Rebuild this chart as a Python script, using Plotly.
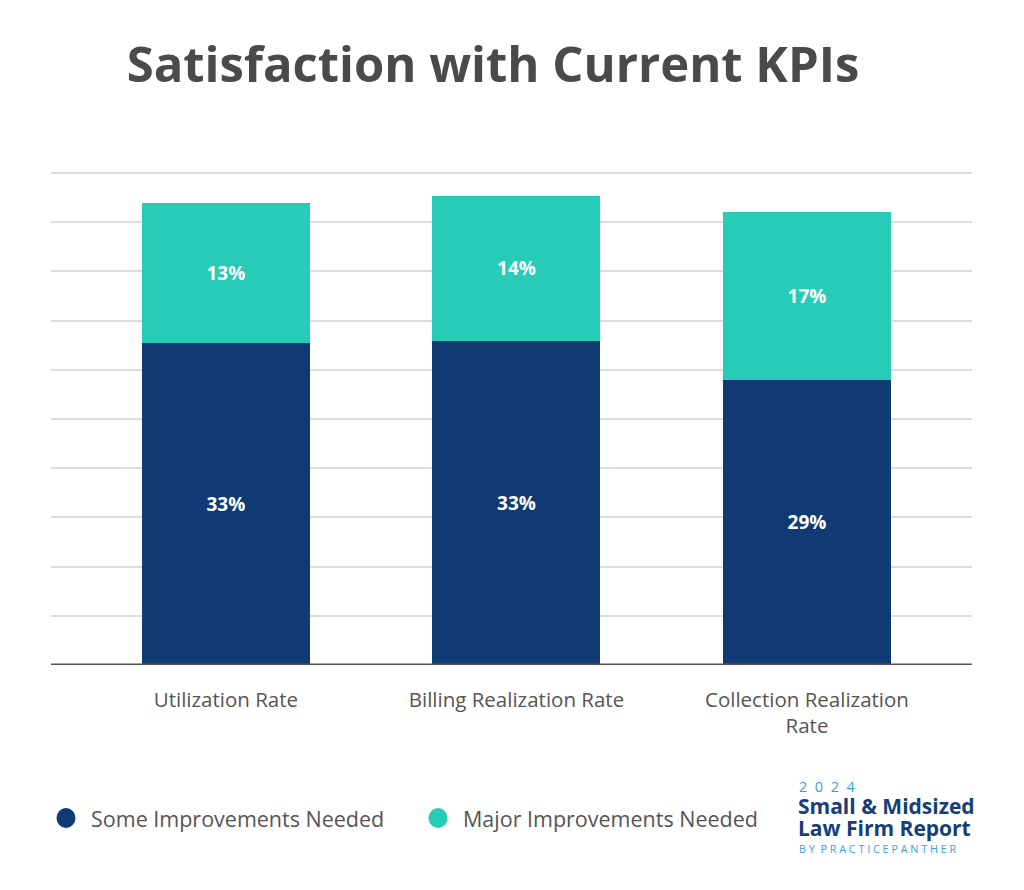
import plotly.graph_objects as go

categories = ["Utilization Rate", "Billing Realization Rate", "Collection Realization<br>Rate"]
some_values = [32.7, 32.9, 29.0]
major_values = [14.2, 14.8, 17.0]
some_labels = ["33%", "33%", "29%"]
major_labels = ["13%", "14%", "17%"]
series_names = ["Some Improvements Needed", "Major Improvements Needed"]
y_ticks = [0, 5, 10, 15, 20, 25, 30, 35, 40, 45, 50]

DARK = "#0f3a73"
TEAL = "#26ccb5"
GRAY = "#555555"
LOGO_BLUE = "#3d9fd6"
LOGO_NAVY = "#153e7a"
FONT = "Open Sans"

# page body has an 8px offset; plot area in figure coordinates
ML, MR, MT, MB = 43, 60, 162, 233
PW = 1024 - ML - MR
PH = 890 - MT - MB


def px(X):
    return (X - 8 - ML) / PW


def py(Y):
    return (890 - MB - (Y - 8)) / PH


x = list(range(len(categories)))

fig = go.Figure()
for vals, labels, name, col in [
    (some_values, some_labels, series_names[0], DARK),
    (major_values, major_labels, series_names[1], TEAL),
]:
    fig.add_trace(go.Bar(
        x=x, y=vals, name=name, marker_color=col, width=0.578,
        text=labels, textposition="inside", insidetextanchor="middle",
        textfont=dict(family=FONT, size=19, color="white", weight="bold"),
        showlegend=False, hoverinfo="skip", marker_line_width=0,
    ))

shapes = [dict(
    type="line", xref="paper", yref="y", x0=0, x1=1, y0=0, y1=0,
    line=dict(color="#555555", width=3),
)]
annotations = []
legend_pos = [(66, 91), (438, 463)]
for (cx, tx), name, col in zip(legend_pos, series_names, [DARK, TEAL]):
    shapes.append(dict(
        type="circle", xref="paper", yref="paper", xsizemode="pixel", ysizemode="pixel",
        xanchor=px(cx), yanchor=py(818), x0=-9.5, x1=9.5, y0=-10, y1=10,
        fillcolor=col, line=dict(width=0),
    ))
    annotations.append(dict(
        text=name, xref="paper", yref="paper", x=px(tx - 2), y=py(818),
        xanchor="left", yanchor="middle", showarrow=False,
        font=dict(family=FONT, size=21.5, color=GRAY),
    ))

annotations += [
    dict(text="2  0  2  4", xref="paper", yref="paper", x=px(797), y=py(786),
         xanchor="left", yanchor="middle", showarrow=False,
         font=dict(family=FONT, size=14.5, color=LOGO_BLUE)),
    dict(text="<b>Small &amp; Midsized</b>", xref="paper", yref="paper", x=px(796), y=py(806),
         xanchor="left", yanchor="middle", showarrow=False,
         font=dict(family=FONT, size=21, color=LOGO_NAVY)),
    dict(text="<b>Law Firm Report</b>", xref="paper", yref="paper", x=px(796), y=py(828),
         xanchor="left", yanchor="middle", showarrow=False,
         font=dict(family=FONT, size=21, color=LOGO_NAVY)),
    dict(text="B Y  P R A C T I C E P A N T H E R", xref="paper", yref="paper", x=px(797), y=py(848),
         xanchor="left", yanchor="middle", showarrow=False,
         font=dict(family=FONT, size=10.8, color=LOGO_BLUE)),
]

fig.update_layout(
    width=1024, height=890,
    barmode="stack",
    showlegend=False,
    paper_bgcolor="white", plot_bgcolor="white",
    margin=dict(l=ML, r=MR, t=MT, b=MB),
    title=dict(
        text="Satisfaction with Current KPIs",
        x=(493 - 8) / 1024, xanchor="center", y=1 - (65 - 8) / 890, yanchor="middle",
        font=dict(family=FONT, size=49, color="#4a4a4a", weight="bold"),
    ),
    xaxis=dict(
        range=[-0.602, 2.568], tickvals=x, ticktext=categories,
        showgrid=False, zeroline=False, showline=False, ticks="",
        tickfont=dict(family=FONT, size=20.5, color=GRAY),
        ticklabelstandoff=20, fixedrange=True,
    ),
    yaxis=dict(
        range=[0, 50.3], tickvals=y_ticks, showticklabels=False,
        showgrid=True, gridcolor="#dcdcdc", gridwidth=2,
        zeroline=False, showline=False, ticks="", fixedrange=True,
    ),
    shapes=shapes,
    annotations=annotations,
)

fig.write_html("out.html")
